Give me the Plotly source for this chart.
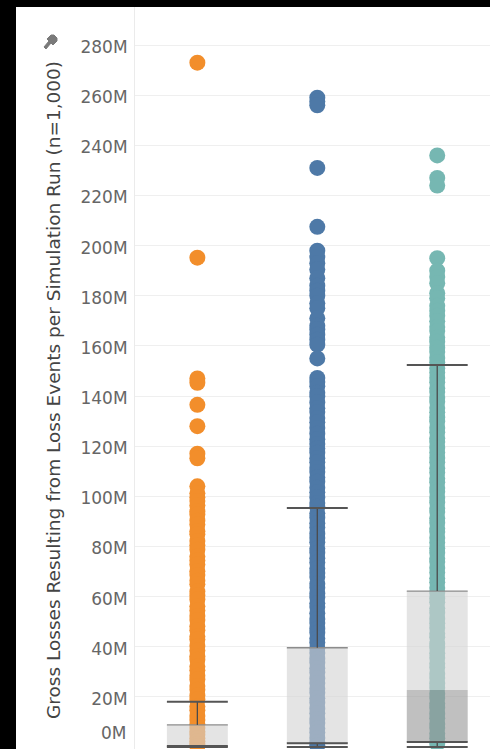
import plotly.graph_objects as go

# ---------------------------------------------------------------------------
# Simulation output: gross losses per run (millions), one column per scenario
# ---------------------------------------------------------------------------
scenarios = ["Scenario A", "Scenario B", "Scenario C"]
colors = ["#f28e2b", "#4e79a7", "#76b7b2"]

losses_a = [
    273.0, 195.2, 147.0, 145.3, 136.5, 128.0, 117.0, 115.2, 104.0,
    101.2, 99.6, 98.1, 96.4, 94.0, 92.7, 90.3, 88.8, 86.1, 84.9, 82.2,
    80.5, 78.7, 76.0, 74.4, 72.8, 70.1, 68.6, 66.3, 64.9, 62.0, 60.4,
    58.8, 56.1, 54.5, 52.3, 50.7, 48.2, 46.6, 44.1, 42.9, 40.3, 38.5,
    36.2, 34.8, 32.1, 30.6, 28.4, 26.9, 24.3, 22.8, 20.5, 18.9, 16.2,
    14.7, 12.4, 10.8, 9.1, 7.6, 6.2, 4.9, 3.5, 2.3, 1.2, 0.4,
]
losses_b = [
    259.0, 257.5, 256.0, 231.0, 207.5, 198.0, 195.5, 193.0, 190.5,
    187.0, 184.0, 182.0, 180.0, 177.0, 175.0, 171.0, 168.0, 166.5,
    164.5, 162.5, 160.5, 155.0,
    147.2, 145.6, 143.9, 141.3, 139.8, 137.4, 135.1, 133.6, 131.2,
    129.5, 127.3, 125.0, 122.8, 120.9, 119.1, 117.4, 115.2, 113.6,
    111.3, 109.7, 107.5, 105.8, 103.4, 101.6, 99.5, 97.3, 95.8, 93.2,
    91.5, 89.3, 87.6, 85.1, 83.4, 81.7, 79.2, 77.5, 75.3, 73.6, 71.2,
    69.4, 67.8, 65.1, 63.5, 61.2, 59.6, 57.3, 55.8, 53.4, 51.1, 49.5,
    47.2, 45.6, 43.3, 41.7, 39.4, 37.5, 35.2, 33.6, 31.4, 29.7, 27.3,
    25.5, 23.2, 21.6, 19.4, 17.7, 15.3, 13.5, 11.2, 9.6, 7.4, 5.8,
    3.6, 1.9, 0.6,
]
losses_c = [
    236.0, 227.0, 224.0, 195.0, 190.0, 187.5, 185.0, 181.0, 179.0,
    176.0, 174.0, 172.0,
    169.8, 167.5, 165.9, 163.4, 161.7, 159.3, 157.6, 155.2, 153.5,
    151.1, 149.4, 147.2, 145.5, 143.1, 141.6, 139.3, 137.7, 135.2,
    133.5, 131.4, 129.8, 127.3, 125.6, 123.2, 121.7, 119.4, 117.5,
    115.3, 113.6, 111.2, 109.5, 107.1, 105.6, 103.3, 101.8, 99.4, 97.5,
    95.2, 93.7, 91.3, 89.5, 87.2, 85.8, 83.4, 81.6, 79.3, 77.5, 75.2,
    73.8, 71.4, 69.6, 67.3, 65.7, 63.4, 61.5, 59.2, 57.7, 55.3, 53.6,
    51.2, 49.4, 47.5, 45.3, 43.8, 41.2, 39.6, 37.4, 35.5, 33.3, 31.7,
    29.2, 27.5, 25.3, 23.6, 21.2, 19.5, 17.4, 15.7, 13.3, 11.5, 9.2,
    7.6, 5.4, 3.5, 1.3,
]

# Box-plot summary per scenario (millions)
lower_whisker = [0.0, 0.0, 0.0]
q1 = [0.4, 1.5, 2.0]
median = [0.6, 1.9, 22.7]
q3 = [8.8, 39.6, 62.2]
upper_whisker = [18.0, 95.3, 152.4]

tick_values = [20, 40, 60, 80, 100, 120, 140, 160, 180, 200, 220, 240, 260, 280]
tick_labels = ["20M", "40M", "60M", "80M", "100M", "120M", "140M", "160M",
               "180M", "200M", "220M", "240M", "260M", "280M"]
zero_label = "0M"
axis_title = "Gross Losses Resulting from Loss Events per Simulation Run (n=1,000)"

# ---------------------------------------------------------------------------
# Layout constants
# ---------------------------------------------------------------------------
W, H = 490, 749
ML, MR, MT, MB = 135, 0, 7, 0
PW, PH = W - ML - MR, H - MT - MB
BOX_HALF = 0.254
FONT = "DejaVu Sans"
TICK_SIZE = 17
TICK_COLOR = "#666666"


def paper_x(px):
    return (px - ML) / PW


def paper_y(py):
    return (H - MB - py) / PH


fig = go.Figure()

series = [losses_a, losses_b, losses_c]
for i, vals in enumerate(series):
    fig.add_trace(go.Scatter(
        x=[i] * len(vals), y=vals, mode="markers", name=scenarios[i],
        marker=dict(size=16, color=colors[i], line=dict(width=0)),
        showlegend=False, hoverinfo="y",
    ))

shapes = []
for i in range(len(scenarios)):
    x0, x1 = i - BOX_HALF, i + BOX_HALF
    # lower box (Q1 -> median), darker
    shapes.append(dict(type="rect", xref="x", yref="y", x0=x0, x1=x1,
                       y0=q1[i], y1=median[i], layer="above",
                       fillcolor="rgba(150,150,150,0.6)", line=dict(width=0)))
    # upper box (median -> Q3), lighter
    shapes.append(dict(type="rect", xref="x", yref="y", x0=x0, x1=x1,
                       y0=median[i], y1=q3[i], layer="above",
                       fillcolor="rgba(210,210,210,0.6)", line=dict(width=0)))
    # box top edge
    shapes.append(dict(type="line", xref="x", yref="y", x0=x0, x1=x1,
                       y0=q3[i], y1=q3[i], layer="above",
                       line=dict(color="#8c8c8c", width=1.3)))
    # whiskers
    shapes.append(dict(type="line", xref="x", yref="y", x0=i, x1=i,
                       y0=q3[i], y1=upper_whisker[i], layer="above",
                       line=dict(color="#4a4a4a", width=1.3)))
    shapes.append(dict(type="line", xref="x", yref="y", x0=i, x1=i,
                       y0=lower_whisker[i], y1=q1[i], layer="above",
                       line=dict(color="#4a4a4a", width=1.3)))
    # caps
    for yv in (upper_whisker[i], lower_whisker[i], q1[i]):
        shapes.append(dict(type="line", xref="x", yref="y", x0=x0, x1=x1,
                           y0=yv, y1=yv, layer="above",
                           line=dict(color="#555555", width=2)))

# window frame strips around the view
shapes.append(dict(type="rect", xref="paper", yref="paper",
                   x0=paper_x(0), x1=paper_x(16), y0=paper_y(H), y1=paper_y(0),
                   fillcolor="black", line=dict(width=0), layer="above"))
shapes.append(dict(type="rect", xref="paper", yref="paper",
                   x0=paper_x(0), x1=paper_x(W), y0=paper_y(MT), y1=paper_y(0),
                   fillcolor="black", line=dict(width=0), layer="above"))

# pin icon next to the axis title
pin = [(44, 47), (49, 41), (47, 39), (51, 35), (54, 35), (57, 38),
       (57, 41), (53, 45), (51, 43), (46, 49)]
path = "M " + " L ".join(f"{paper_x(a):.5f},{paper_y(b):.5f}" for a, b in pin) + " Z"
shapes.append(dict(type="path", xref="paper", yref="paper", path=path,
                   fillcolor="#7a7a7a", line=dict(color="#7a7a7a", width=1)))

fig.update_layout(
    width=W, height=H,
    margin=dict(l=ML, r=MR, t=MT, b=MB, pad=0),
    paper_bgcolor="white", plot_bgcolor="white",
    shapes=shapes,
    xaxis=dict(range=[-0.52, 2.44], showticklabels=False, showgrid=False,
               zeroline=False, showline=False, fixedrange=True),
    yaxis=dict(range=[-0.8, 295.2], tickvals=tick_values, ticktext=tick_labels,
               showgrid=True, gridcolor="#efefef", gridwidth=1,
               zeroline=False, showline=True, linecolor="#ebebeb", linewidth=1,
               ticks="", ticklabelstandoff=3, ticklabelshift=2,
               tickfont=dict(family=FONT, size=TICK_SIZE, color=TICK_COLOR)),
    annotations=[
        dict(text=zero_label, xref="paper", yref="paper", x=paper_x(128),
             y=paper_y(733), xanchor="right", yanchor="middle", showarrow=False,
             font=dict(family=FONT, size=TICK_SIZE, color=TICK_COLOR)),
        dict(text=axis_title, xref="paper", yref="paper", x=paper_x(53),
             y=paper_y(390), xanchor="center", yanchor="middle", textangle=-90,
             showarrow=False, font=dict(family=FONT, size=18.5, color="#444444")),
    ],
)

fig.write_html("out.html")
